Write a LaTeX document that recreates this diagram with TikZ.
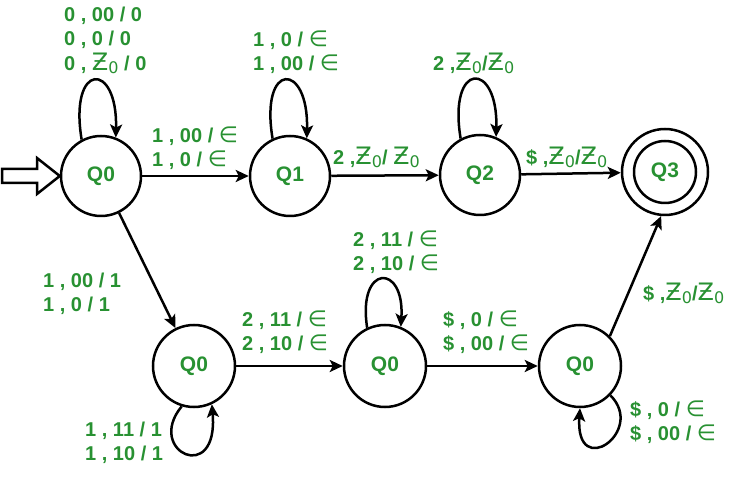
\documentclass[tikz,border=0pt]{standalone}
\usepackage{fontspec}
\setmainfont{Liberation Sans}
\newfontfamily\djv{DejaVu Sans}
\usetikzlibrary{arrows.meta}
\definecolor{lbl}{RGB}{40,145,50}
\newcommand{\Zo}{{\djv\mdseries\fontsize{24}{24}\selectfont Ƶ}{\djv\mdseries\fontsize{16}{16}\selectfont\raisebox{-3pt}{0}}}
\newcommand{\elm}{{\djv\mdseries\fontsize{22}{22}\selectfont ∈}}
\begin{document}
\begin{tikzpicture}[x=1pt,y=-1pt,
  state/.style={circle,draw,line width=2.5pt,minimum size=80pt,inner sep=0pt,text=lbl,font=\bfseries\fontsize{21}{21}\selectfont},
  edge/.style={line width=2.5pt,-{Stealth[length=13pt,width=12pt,inset=3pt]}},
  lab/.style={align=left,anchor=west,inner sep=0pt,text=lbl,font=\bfseries\fontsize{20}{24.5}\selectfont}]
\useasboundingbox (0,0) rectangle (753,478);
% states
\node[state] (q0) at (101,176) {Q0};
\node[state] (q1) at (290,176) {Q1};
\node[state] (q2) at (480,175) {Q2};
\node[state,minimum size=86pt] (q3) at (665,172) {};
\node[state,minimum size=62pt] (q3i) at (q3.center) {Q3};
\node[state,minimum size=82pt] (a) at (194,366) {Q0};
\node[state,minimum size=82pt] (b) at (385,366) {Q0};
\node[state,minimum size=82pt] (c) at (580,366) {Q0};
% start arrow
\draw[line width=2.5pt,line join=miter] (2,169) -- (37,169) -- (37,158) -- (q0.west) -- (37,194) -- (37,183) -- (2,183) -- cycle;
% edges
\draw[edge] (q0) -- (q1);
\draw[edge] (q1) -- (q2);
\draw[edge] (q2) -- (q3);
\draw[edge] (q0) -- (a);
\draw[edge] (a) -- (b);
\draw[edge] (b) -- (c);
\draw[edge] (c.45) -- (q3.265);
% loops
\draw[edge] (q0.118) .. controls +(-13,-78) and +(2,-77) .. (q0.69);
\draw[edge] (q1.115) .. controls +(-13,-78) and +(2,-77) .. (q1.66);
\draw[edge] (q2.118) .. controls +(-13,-78) and +(2,-77) .. (q2.67);
\draw[edge] (b.115) .. controls +(-10,-64) and +(4,-64) .. (b.68);
\draw[edge] (a.-107) .. controls +(-37,45) and +(7,82) .. (a.-65);
\draw[edge] (c.-44) .. controls +(36,36) and +(-5,73) .. (c.-90);
% labels
\node[lab] (l1) at (64,40) {0 , 00 / 0\\0 , 0 / 0\\0 , \Zo\ / 0};
\node[lab] (l2) at (253,52) {1 , 0 / \elm\\1 , 00 / \elm};
\node[lab] (l3) at (152,148) {1 , 00 / \elm\\1 , 0 / \elm};
\node[lab] (l4) at (333,157) {2 ,\Zo/ \Zo};
\node[lab] (l5) at (433,63) {2 ,\Zo/\Zo};
\node[lab] (l6) at (526,157) {\$ ,\Zo/\Zo};
\node[lab] (l7) at (43,294) {1 , 00 / 1\\1 , 0 / 1};
\node[lab] (l8) at (242,332) {2 , 11 / \elm\\2 , 10 / \elm};
\node[lab] (l9) at (353,252) {2 , 11 / \elm\\2 , 10 / \elm};
\node[lab] (l10) at (443,332) {\$ , 0 / \elm\\\$ , 00 / \elm};
\node[lab] (l11) at (643,293) {\$ ,\Zo/\Zo};
\node[lab] (l12) at (630,422) {\$ , 0 / \elm\\\$ , 00 / \elm};
\node[lab] (l13) at (85,443) {1 , 11 / 1\\1 , 10 / 1};
\end{tikzpicture}
\end{document}
